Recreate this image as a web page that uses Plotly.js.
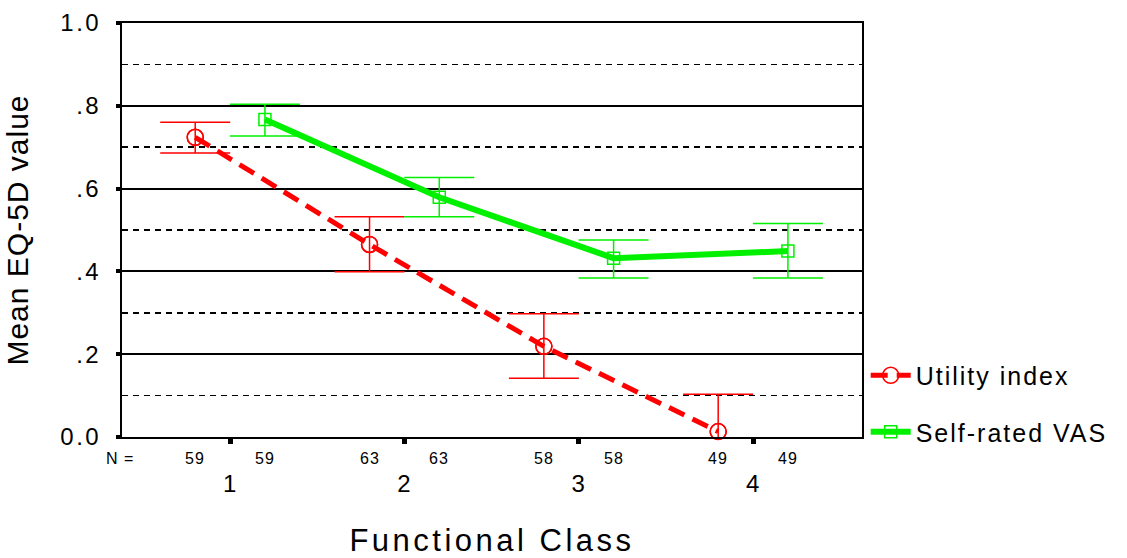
<!DOCTYPE html>
<html>
<head>
<meta charset="utf-8">
<script src="https://cdn.plot.ly/plotly-3.0.1.min.js"></script>
<style>
  html, body { margin: 0; padding: 0; background: #ffffff; }
  #chart { width: 1127px; height: 558px; }
  .xtitle { letter-spacing: 3.5px; transform: translateY(12px); }
  .ytitle { letter-spacing: 1px; }
  .legendtext { letter-spacing: 2px; }
  .ytick text { letter-spacing: 2.5px; }
  .xtick text { letter-spacing: 1px; }
  .annotation-text { letter-spacing: 1px; }
</style>
</head>
<body>
<div id="chart"></div>
<script>
// ---- data ----
const categories = [1, 2, 3, 4];
const categoryLabels = ['1', '2', '3', '4'];
const nCounts = ['59', '63', '58', '49'];

const utilityMean  = [0.724, 0.465, 0.219, 0.013];
const utilityUpper = [0.760, 0.532, 0.298, 0.103];
const utilityLower = [0.686, 0.399, 0.142, -0.077];

const vasMean  = [0.767, 0.579, 0.432, 0.449];
const vasUpper = [0.804, 0.627, 0.476, 0.516];
const vasLower = [0.727, 0.532, 0.384, 0.384];

const yTickVals = [0, 0.2, 0.4, 0.6, 0.8, 1.0];
const yTickText = ['0.0', '.2', '.4', '.6', '.8', '1.0'];
const yDashedVals = [0.1, 0.3, 0.5, 0.7, 0.9];

// ---- styling ----
const FONT = 'Liberation Sans, Arial, sans-serif';
const RED = '#ff0000';
const GREEN = '#00f000';
const OFFSET = 0.2;

const xUtil = categories.map(c => c - OFFSET);
const xVas = categories.map(c => c + OFFSET);

function plus(mean, upper) { return upper.map((u, i) => u - mean[i]); }
function minus(mean, lower) { return lower.map((l, i) => mean[i] - l); }

const traces = [
  {
    name: 'Utility index', legendgroup: 'u',
    x: xUtil, y: utilityMean, type: 'scatter', mode: 'lines+markers',
    line: { color: RED, width: 5, dash: '17px,9px' },
    marker: { symbol: 'circle-open', size: 16, color: RED, line: { width: 1.5, color: RED } },
    error_y: { type: 'data', symmetric: false, array: plus(utilityMean, utilityUpper),
               arrayminus: minus(utilityMean, utilityLower), color: RED, thickness: 1.5, width: 35 },
    cliponaxis: true
  },
  {
    name: 'Self-rated VAS', legendgroup: 'v',
    x: xVas, y: vasMean, type: 'scatter', mode: 'lines+markers',
    line: { color: GREEN, width: 6 },
    marker: { symbol: 'square-open', size: 12, color: GREEN, line: { width: 1.5, color: GREEN } },
    error_y: { type: 'data', symmetric: false, array: plus(vasMean, vasUpper),
               arrayminus: minus(vasMean, vasLower), color: GREEN, thickness: 1.5, width: 35 },
    cliponaxis: true
  },
  {
    x: xUtil, y: utilityMean, type: 'scatter', mode: 'markers', showlegend: false, hoverinfo: 'skip',
    marker: { symbol: 'circle-open', size: 16, color: RED, line: { width: 1.5, color: RED } },
    cliponaxis: false
  }
];

const annotations = [];
annotations.push({
  text: 'N =', xref: 'paper', yref: 'paper', x: 0, y: 0, xanchor: 'center', yanchor: 'middle',
  xshift: -2, yshift: -21, showarrow: false, font: { family: FONT, size: 16, color: '#000' }
});
categories.forEach((c, i) => {
  [xUtil[i], xVas[i]].forEach(xx => {
    annotations.push({
      text: nCounts[i], xref: 'x', yref: 'paper', x: xx, y: 0, xanchor: 'center', yanchor: 'middle',
      yshift: -21, showarrow: false, font: { family: FONT, size: 16, color: '#000' }
    });
  });
});

const layout = {
  width: 1127, height: 558,
  margin: { l: 122, r: 265, t: 23, b: 121, pad: 0 },
  paper_bgcolor: '#ffffff', plot_bgcolor: '#ffffff',
  font: { family: FONT, color: '#000' },
  showlegend: true,
  legend: {
    x: 1.005, xanchor: 'left', y: 0.204, yanchor: 'top',
    font: { family: FONT, size: 25, color: '#000' },
    itemwidth: 40, tracegroupgap: 21, traceorder: 'grouped',
    bgcolor: 'rgba(0,0,0,0)', borderwidth: 0
  },
  xaxis: {
    range: [0.38, 4.625],
    tickvals: categories, ticktext: categoryLabels,
    ticks: 'outside', ticklen: 5, tickwidth: 5, tickcolor: '#000',
    ticklabelstandoff: 19,
    tickfont: { family: FONT, size: 24, color: '#000' },
    showgrid: false, zeroline: false,
    showline: true, linecolor: '#000', linewidth: 2, mirror: true,
    title: { text: 'Functional Class', font: { family: FONT, size: 31, color: '#000' } }
  },
  yaxis: {
    range: [0, 1],
    tickvals: yTickVals, ticktext: yTickText,
    ticks: 'outside', ticklen: 4, tickwidth: 4, tickcolor: '#000',
    ticklabelstandoff: 10,
    tickfont: { family: FONT, size: 24, color: '#000' },
    showgrid: true, gridcolor: '#000', gridwidth: 2,
    minor: { tickvals: yDashedVals, showgrid: true, gridcolor: '#000', gridwidth: 1.6, griddash: '6px,5px', ticks: '' },
    zeroline: false,
    showline: true, linecolor: '#000', linewidth: 2, mirror: true,
    title: { text: 'Mean EQ-5D value', font: { family: FONT, size: 30, color: '#000' }, standoff: 23 }
  },
  annotations: annotations
};

Plotly.newPlot('chart', traces, layout, { displayModeBar: false, staticPlot: true });
</script>
</body>
</html>
